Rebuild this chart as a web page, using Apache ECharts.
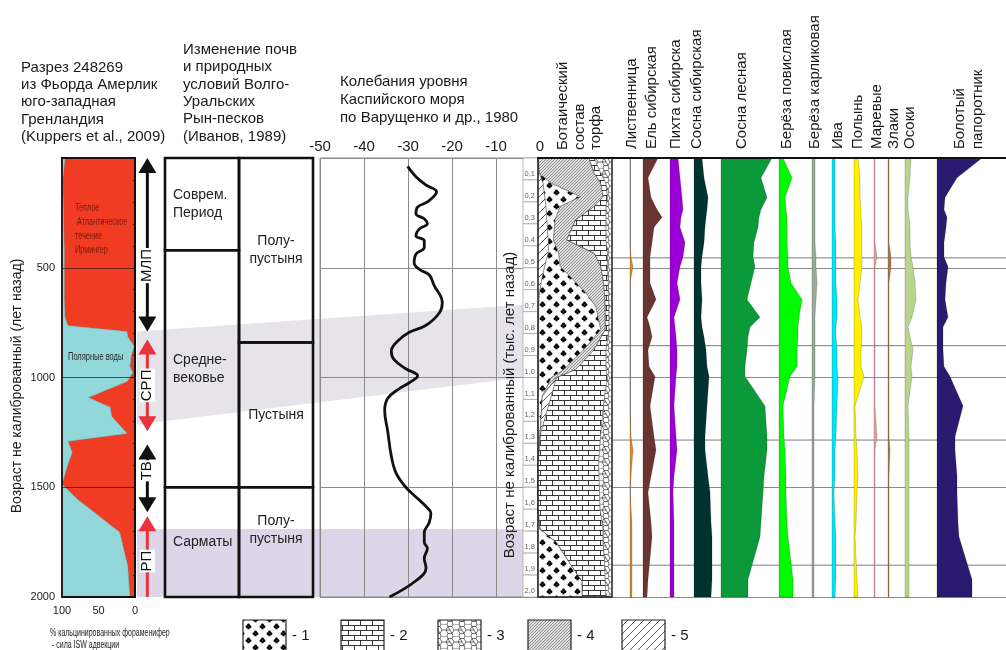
<!DOCTYPE html>
<html>
<head>
<meta charset="utf-8">
<script src="https://cdn.jsdelivr.net/npm/echarts@6/dist/echarts.min.js"></script>
<style>
  html, body { margin: 0; padding: 0; background: #fff; }
  #chart { width: 1006px; height: 650px; }
</style>
</head>
<body>
<div id="chart"></div>
<script>
// ---------------- data ----------------
// Greenland core 248269: share of calcified foraminifera (%), 0..2000 yr BP
const greenlandAges  = [0, 100, 418, 645, 723, 764, 791, 814, 859, 895, 950, 977, 1018, 1091, 1136, 1177, 1255, 1291, 1341, 1405, 1486, 1555, 1705, 1859, 2000];
const greenlandForam = [96, 99, 97, 97, 96, 92, 11, 10, 1, 5, 7, 3, 11, 64, 34, 32, 11, 92, 86, 93, 100, 79, 21, 10, 7];

// climatic periods (arrows)
const periodNames     = ['МЛП', 'СРП', 'ТВ', 'РП'];
const periodStart     = [0, 827, 1305, 1632];
const periodEnd       = [790, 1245, 1614, 2000];
const periodLabelAge  = [490, 1036, 1425, 1836];
const periodEndArrow  = [true, true, true, false];
const periodColors    = ['#111111', '#e8323c', '#111111', '#e8323c'];

// soils and landscapes of the Volga-Ural sands
const soilColumn = [0, 0, 0, 1, 1, 1];
const soilStart  = [0, 420, 1500, 0, 840, 1500];
const soilEnd    = [420, 1500, 2000, 840, 1500, 2000];
const soilLabels = ['Соврем.\nПериод', 'Средне-\nвековье', 'Сарматы', 'Полу-\nпустыня', 'Пустыня', 'Полу-\nпустыня'];

// shaded intervals
const bandMedievalLeft  = [791, 1214];
const bandMedievalRight = [668, 1000];
const bandSarmatian     = [1690, 2000];

// Caspian Sea level (m)
const caspianAges  = [38, 85, 123, 154, 200, 223, 254, 277, 300, 323, 354, 377, 408, 438, 477, 508, 532, 579, 659, 706, 762, 794, 833, 881, 920, 960, 992, 1024, 1055, 1095, 1150, 1246, 1357, 1436, 1500, 1544, 1588, 1618, 1662, 1706, 1750, 1779, 1823, 1868, 1926, 2000];
const caspianLevel = [-30.1, -28.2, -25.9, -23.5, -25.6, -27.8, -28.2, -26.3, -25.6, -27.4, -28.2, -26.3, -26.3, -28.2, -28.6, -27.4, -25.2, -24.1, -22.2, -22.9, -25.9, -29.7, -32.3, -33.8, -33.1, -30.5, -27.8, -29.7, -32.3, -34.6, -35.3, -34.6, -33.8, -32.7, -30.5, -28.2, -25.9, -24.8, -25.2, -26.3, -26.3, -25.6, -26.3, -25.9, -28.2, -34.2];
const caspianTicks = [-50, -40, -30, -20, -10, 0];

// age scale, thousand years
const depthLabels = ['0,1','0,2','0,3','0,4','0,5','0,6','0,7','0,8','0,9','1,0','1,1','1,2','1,3','1,4','1,5','1,6','1,7','1,8','1,9','2,0'];

// botanical composition of peat (%), left to right
const peatAges       = [0, 70, 115, 176, 221, 282, 373, 433, 494, 555, 615, 676, 782, 873, 964, 1001, 1085, 1250, 1390, 1600, 1690, 1750, 1840, 1930, 2000];
const peatHatchLeft  = [0, 2, 7, 9, 11, 12, 14, 14, 9, 5, 2, 1, 1, 1, 1, 1, 0, 0, 0, 0, 0, 0, 0, 0, 0];
const peatClubs      = [0, 0, 11, 49, 19, 11, 7, 14, 21, 43, 63, 77, 84, 61, 34, 17, 6, 3, 0, 0, 3, 25, 42, 60, 60];
const peatFineHatch  = [69, 74, 67, 30, 46, 28, 18, 48, 55, 40, 25, 13, 6, 14, 16, 7, 0, 0, 0, 0, 0, 0, 0, 0, 0];
const peatHatchMid   = [0, 0, 0, 0, 0, 0, 0, 0, 0, 0, 0, 0, 0, 0, 0, 0, 12, 1, 0, 0, 0, 0, 0, 0, 0];
const peatBricks     = [7, 9, 7, 6, 16, 41, 53, 18, 9, 7, 5, 5, 5, 16, 41, 69, 72, 81, 82, 84, 85, 63, 48, 31, 32];
const peatNet        = [24, 15, 8, 6, 8, 8, 8, 6, 6, 5, 5, 4, 4, 8, 8, 6, 10, 15, 18, 16, 12, 12, 10, 9, 8];
const legendNumbers  = ['- 1', '- 2', '- 3', '- 4', '- 5'];

// pollen and spores (%)
const pollenAges   = [0, 90, 180, 235, 270, 315, 385, 450, 495, 570, 645, 725, 770, 815, 875, 950, 995, 1130, 1270, 1330, 1450, 1525, 1660, 1725, 1920, 2000];
const larch        = [0, 0, 0, 0, 0, 0, 0, 1, 3, 0, 0, 0, 0, 0, 0, 0, 0, 0, 1, 3, 1, 0, 2, 2, 2, 2];
const spruce       = [15, 5, 8, 14, 19, 11, 9, 7, 7, 7, 13, 4, 7, 9, 5, 6, 12, 7, 11, 13, 8, 5, 8, 9, 5, 4];
const fir          = [8, 10, 12, 13, 11, 10, 15, 13, 10, 7, 10, 4, 5, 6, 7, 7, 6, 4, 6, 7, 4, 3, 4, 4, 4, 4];
const siberianPine = [8, 10, 14, 13, 12, 11, 10, 8, 7, 7, 8, 7, 8, 10, 12, 13, 15, 13, 11, 11, 14, 16, 17, 18, 18, 17];
const scotsPine    = [51, 40, 46, 40, 38, 37, 33, 32, 34, 30, 26, 39, 29, 27, 26, 24, 24, 44, 46, 46, 43, 42, 40, 39, 27, 27];
const silverBirch  = [4, 13, 6, 7, 8, 8, 8, 9, 9, 12, 23, 20, 19, 19, 18, 18, 11, 4, 5, 6, 7, 7, 8, 9, 14, 14];
const dwarfBirch   = [3, 3, 3, 3, 3, 3, 3, 4, 4, 5, 4, 3, 3, 3, 3, 3, 3, 2, 2, 2, 2, 2, 2, 2, 2, 2];
const willow       = [3, 3, 3, 3, 3, 3, 4, 4, 4, 4, 5, 5, 4, 4, 5, 5, 6, 5, 4, 3, 3, 2, 3, 4, 4, 3];
const wormwood     = [4, 6, 6, 7, 7, 8, 8, 8, 8, 6, 4, 6, 8, 8, 7, 7, 10, 1, 2, 3, 4, 3, 2, 1, 3, 4];
const chenopods    = [1, 1, 1, 1, 1, 1, 1, 3, 1, 1, 1, 1, 1, 1, 1, 1, 1, 1, 3, 1, 1, 1, 1, 1, 1, 1];
const grasses      = [1, 1, 1, 1, 1, 1, 1, 3, 3, 1, 1, 1, 1, 1, 1, 1, 1, 1, 1, 2, 1, 1, 1, 1, 1, 1];
const sedges       = [6, 5, 3, 3, 4, 5, 5, 6, 8, 10, 11, 7, 3, 5, 8, 6, 7, 3, 4, 4, 4, 4, 4, 4, 4, 4];
const marshFern    = [45, 20, 8, 7, 10, 9, 7, 7, 11, 9, 8, 11, 6, 6, 6, 7, 13, 26, 18, 18, 20, 20, 21, 22, 35, 35];
const pollenZoneAges = [455, 855, 1285, 1855];

// ---------------- layout & style ----------------
const FONT = '"Liberation Sans", Arial, "DejaVu Sans", sans-serif';
const TOP = 158, H = 439;

// fill patterns for peat components
function makePattern(kind) {
  const c = document.createElement('canvas');
  const g = c.getContext('2d');
  if (kind === 'clubs') {
    c.width = 14; c.height = 14;
    g.fillStyle = '#fff'; g.fillRect(0, 0, 14, 14);
    g.fillStyle = '#000';
    [[3.5, 3.3], [10.5, 10.3]].forEach(([x, y]) => {
      g.beginPath(); g.arc(x, y - 1.4, 1.45, 0, Math.PI * 2); g.fill();
      g.beginPath(); g.arc(x - 1.5, y + 0.5, 1.45, 0, Math.PI * 2); g.fill();
      g.beginPath(); g.arc(x + 1.5, y + 0.5, 1.45, 0, Math.PI * 2); g.fill();
      g.beginPath(); g.moveTo(x, y); g.lineTo(x - 1.4, y + 3); g.lineTo(x + 1.4, y + 3); g.closePath(); g.fill();
    });
  } else if (kind === 'bricks') {
    c.width = 12; c.height = 10;
    g.fillStyle = '#fff'; g.fillRect(0, 0, 12, 10);
    g.strokeStyle = '#222'; g.lineWidth = 0.9;
    g.beginPath();
    g.moveTo(0, 0.5); g.lineTo(12, 0.5);
    g.moveTo(0, 5.5); g.lineTo(12, 5.5);
    g.moveTo(0.5, 0); g.lineTo(0.5, 5.5);
    g.moveTo(6.5, 5.5); g.lineTo(6.5, 10);
    g.stroke();
  } else if (kind === 'net') {
    c.width = 12; c.height = 12;
    g.fillStyle = '#fff'; g.fillRect(0, 0, 12, 12);
    g.strokeStyle = '#333'; g.lineWidth = 0.7;
    g.beginPath();
    const hex = [[2, 6], [4, 2.5], [8, 2.5], [10, 6], [8, 9.5], [4, 9.5]];
    g.moveTo(hex[0][0], hex[0][1]);
    hex.slice(1).forEach(p => g.lineTo(p[0], p[1]));
    g.closePath();
    g.moveTo(0, 6); g.lineTo(2, 6); g.moveTo(10, 6); g.lineTo(12, 6);
    g.moveTo(4, 2.5); g.lineTo(3, 0); g.moveTo(8, 2.5); g.lineTo(9, 0);
    g.moveTo(4, 9.5); g.lineTo(3, 12); g.moveTo(8, 9.5); g.lineTo(9, 12);
    g.moveTo(4, 2.5); g.lineTo(6, 6); g.lineTo(8, 9.5);
    g.moveTo(2, 6); g.lineTo(6, 6);
    g.moveTo(0, 0); g.lineTo(3, 0); g.moveTo(9, 0); g.lineTo(12, 0);
    g.stroke();
  } else if (kind === 'fine') {
    c.width = 3; c.height = 3;
    g.fillStyle = '#dedede'; g.fillRect(0, 0, 3, 3);
    g.strokeStyle = '#8a8a8a'; g.lineWidth = 0.9;
    g.beginPath();
    g.moveTo(-1, 4); g.lineTo(4, -1);
    g.moveTo(-1, 1); g.lineTo(1, -1);
    g.moveTo(2, 4); g.lineTo(4, 2);
    g.stroke();
  } else {
    c.width = 8; c.height = 8;
    g.fillStyle = '#fff'; g.fillRect(0, 0, 8, 8);
    g.strokeStyle = '#333'; g.lineWidth = 0.8;
    g.beginPath();
    g.moveTo(-1, 9); g.lineTo(9, -1);
    g.moveTo(-1, 1); g.lineTo(1, -1);
    g.moveTo(7, 9); g.lineTo(9, 7);
    g.stroke();
  }
  return { image: c, repeat: 'repeat' };
}
const PAT = {
  clubs: makePattern('clubs'), bricks: makePattern('bricks'), net: makePattern('net'),
  fine: makePattern('fine'), wide: makePattern('wide')
};

const grids = [], xAxes = [], yAxes = [], series = [];
function addGrid(left, width, xOpt, yOpt, gOpt) {
  const idx = grids.length;
  grids.push(Object.assign({ left, width, top: TOP, height: H, containLabel: false }, gOpt || {}));
  xAxes.push(Object.assign({ gridIndex: idx, type: 'value', min: 0, max: 1, show: false }, xOpt || {}));
  yAxes.push(Object.assign({ gridIndex: idx, type: 'value', min: 0, max: 2000, inverse: true, show: false }, yOpt || {}));
  return idx;
}
function custom(idx, render, n, z) {
  const data = [];
  for (let i = 0; i < (n || 1); i++) data.push([0, 0]);
  series.push({ type: 'custom', xAxisIndex: idx, yAxisIndex: idx, data, silent: true, z: z == null ? 2 : z, renderItem: render });
}

// shaded bands across the panels
const gBand = addGrid(137, 386);
custom(gBand, (p, api) => {
  const q = [api.coord([0, bandMedievalLeft[0]]), api.coord([1, bandMedievalRight[0]]),
             api.coord([1, bandMedievalRight[1]]), api.coord([0, bandMedievalLeft[1]])];
  const s0 = api.coord([0, bandSarmatian[0]]), s1 = api.coord([1, bandSarmatian[1]]);
  return { type: 'group', children: [
    { type: 'polygon', shape: { points: q }, style: { fill: '#e6e3eb' } },
    { type: 'rect', shape: { x: s0[0], y: s0[1], width: s1[0] - s0[0], height: s1[1] - s0[1] }, style: { fill: '#ddd5e8' } }
  ] };
}, 1, -1);

// 500-year lines running through the right half
const gFrame = addGrid(320, 686, null, {
  show: true, interval: 500, z: 1,
  axisLine: { show: false }, axisTick: { show: false }, axisLabel: { show: false },
  splitLine: { show: true, lineStyle: { color: '#8c8c8c', width: 1 } }
});

// Greenland core panel
const gGreen = addGrid(62, 73, {
  show: true, inverse: true, min: 0, max: 100, interval: 50, position: 'bottom',
  axisLine: { show: true, lineStyle: { color: '#111', width: 2 } },
  axisTick: { show: true, length: 5, lineStyle: { color: '#111', width: 1.5 } },
  minorTick: { show: true, splitNumber: 5, length: 4, lineStyle: { color: '#111', width: 1.5 } },
  axisLabel: { fontSize: 11, fontFamily: FONT, color: '#222', margin: 8 },
  splitLine: { show: false }
}, {
  show: true, interval: 500, z: 3,
  axisLine: { show: true, lineStyle: { color: '#111', width: 2 } },
  axisTick: { show: true, length: 4, lineStyle: { color: '#111' } },
  minorTick: { show: true, splitNumber: 5, length: 2, lineStyle: { color: '#111' } },
  axisLabel: { fontSize: 11, fontFamily: FONT, color: '#222', margin: 7, formatter: v => v === 0 ? '' : String(v) },
  splitLine: { show: true, lineStyle: { color: 'rgba(50,15,15,0.7)', width: 1 } }
});
custom(gGreen, (p, api) => {
  const n = greenlandAges.length;
  const bnd = greenlandAges.map((a, i) => api.coord([greenlandForam[i], a]));
  const cyan = [api.coord([100, greenlandAges[0]])].concat(bnd, [api.coord([100, greenlandAges[n - 1]])]);
  const red = [api.coord([0, greenlandAges[0]])].concat(bnd, [api.coord([0, greenlandAges[n - 1]])]);
  const a = api.coord([100, 0]), b = api.coord([0, 2000]);
  return { type: 'group', children: [
    { type: 'polygon', shape: { points: red }, style: { fill: '#ef3c22', stroke: '#b62a18', lineWidth: 0.6 } },
    { type: 'polygon', shape: { points: cyan }, style: { fill: '#92d7da', stroke: '#6fb8bc', lineWidth: 0.6 } },
    { type: 'rect', shape: { x: a[0], y: a[1], width: b[0] - a[0], height: b[1] - a[1] }, style: { fill: 'none', stroke: '#111', lineWidth: 1.8 } }
  ] };
});

// period arrows: shaft, label on a white patch, then the heads
const gArrow = addGrid(137, 23);
custom(gArrow, (p, api) => {
  const i = p.dataIndex;
  const cx = api.coord([0.45, 0])[0];
  const y1 = api.coord([0, periodStart[i]])[1];
  const y2 = api.coord([0, periodEnd[i]])[1];
  const yl = api.coord([0, periodLabelAge[i]])[1];
  const col = periodColors[i];
  const hw = 9, hh = 15;
  const ch = [
    { type: 'line', z2: 1, shape: { x1: cx, y1: y1 + hh - 2, x2: cx, y2: periodEndArrow[i] ? y2 - hh + 2 : y2 }, style: { stroke: col, lineWidth: 3 } },
    { type: 'text', z2: 2, x: cx, y: yl, rotation: Math.PI / 2,
      style: { text: periodNames[i], x: 0, y: 0, align: 'center', verticalAlign: 'middle', fontSize: 15, fontFamily: FONT, fill: '#111', backgroundColor: '#fff', padding: [0, 1] } },
    { type: 'polygon', z2: 3, shape: { points: [[cx, y1], [cx - hw, y1 + hh], [cx + hw, y1 + hh]] }, style: { fill: col } }
  ];
  if (periodEndArrow[i]) ch.push({ type: 'polygon', z2: 3, shape: { points: [[cx, y2], [cx - hw, y2 - hh], [cx + hw, y2 - hh]] }, style: { fill: col } });
  return { type: 'group', children: ch };
}, periodNames.length, 4);

// soil panel
const gSoil = addGrid(165, 148, { min: 0, max: 2 });
custom(gSoil, (p, api) => {
  const i = p.dataIndex;
  const c = soilColumn[i];
  const a = api.coord([c, soilStart[i]]), b = api.coord([c + 1, soilEnd[i]]);
  const cy = (a[1] + b[1]) / 2 + (c === 1 && soilStart[i] === 1500 ? -12 : 0);
  const tx = c === 0 ? a[0] + 8 : (a[0] + b[0]) / 2;
  return { type: 'group', children: [
    { type: 'rect', shape: { x: a[0], y: a[1], width: b[0] - a[0], height: b[1] - a[1] }, style: { fill: 'none', stroke: '#111', lineWidth: 2.6 } },
    { type: 'text', style: { text: soilLabels[i], x: tx, y: cy, align: c === 0 ? 'left' : 'center', verticalAlign: 'middle', fontSize: 14, lineHeight: 18, fontFamily: FONT, fill: '#222' } }
  ] };
}, soilLabels.length);

// Caspian Sea level panel
const gCasp = addGrid(320, 220, {
  show: true, min: -50, max: 0, interval: 10, position: 'top', z: 1,
  axisLine: { show: false }, axisTick: { show: false },
  axisLabel: { fontSize: 15, fontFamily: FONT, color: '#1a1a1a', margin: 4, formatter: v => caspianTicks.indexOf(v) >= 0 ? String(v) : '' },
  splitLine: { show: true, lineStyle: { color: '#8c8c8c', width: 1 } }
}, null, { show: true, borderColor: '#8c8c8c', borderWidth: 1, z: 1 });
series.push({
  type: 'line', xAxisIndex: gCasp, yAxisIndex: gCasp, smooth: 0.4, showSymbol: false, silent: true, z: 3,
  lineStyle: { color: '#111', width: 2.8 },
  data: caspianLevel.map((v, i) => [v, caspianAges[i]])
});

// age scale boxes
const gDepth = addGrid(523, 15);
custom(gDepth, (p, api) => {
  const ch = [];
  depthLabels.forEach((t, i) => {
    const a = api.coord([0, i * 100]), b = api.coord([1, (i + 1) * 100]);
    ch.push({ type: 'rect', shape: { x: a[0], y: a[1], width: b[0] - a[0], height: b[1] - a[1] }, style: { fill: '#fff', stroke: '#a8a8a8', lineWidth: 0.8 } });
    ch.push({ type: 'text', style: { text: t, x: a[0] + 1.5, y: b[1] - 2, align: 'left', verticalAlign: 'bottom', fontSize: 7.5, fontFamily: FONT, fill: '#666' } });
  });
  return { type: 'group', children: ch };
}, 1, 4);

// peat composition column
const gPeat = addGrid(538, 74, { min: 0, max: 100 });
const peatLayers = [peatHatchLeft, peatClubs, peatFineHatch, peatHatchMid, peatBricks, peatNet];
const peatFills  = [PAT.wide, PAT.clubs, PAT.fine, PAT.wide, PAT.bricks, PAT.net];
custom(gPeat, (p, api) => {
  const ch = [];
  const cum = peatAges.map(() => 0);
  peatLayers.forEach((layer, k) => {
    const left = cum.slice();
    layer.forEach((v, j) => { cum[j] += v; });
    const pts = [];
    peatAges.forEach((a, j) => pts.push(api.coord([cum[j], a])));
    for (let j = peatAges.length - 1; j >= 0; j--) pts.push(api.coord([left[j], peatAges[j]]));
    ch.push({ type: 'polygon', shape: { points: pts }, style: { fill: peatFills[k], stroke: '#555', lineWidth: 0.5 } });
  });
  const a = api.coord([0, 0]), b = api.coord([100, 2000]);
  ch.push({ type: 'rect', shape: { x: a[0], y: a[1], width: b[0] - a[0], height: b[1] - a[1] }, style: { fill: 'none', stroke: '#222', lineWidth: 1.4 } });
  return { type: 'group', children: ch };
}, 1, 4);

// top rule over peat and pollen panels, bottom rule of pollen panel
const gTopRule = addGrid(538, 468, {
  show: true, position: 'top', z: 5,
  axisLine: { show: true, lineStyle: { color: '#111', width: 2.2 } },
  axisTick: { show: false }, axisLabel: { show: false }, splitLine: { show: false }
});
const gZones = addGrid(612, 394, {
  show: true, position: 'bottom',
  axisLine: { show: true, lineStyle: { color: '#b0b0b0', width: 1 } },
  axisTick: { show: false }, axisLabel: { show: false }, splitLine: { show: false }
});
custom(gZones, (p, api) => {
  return { type: 'group', children: pollenZoneAges.map(a => {
    const l = api.coord([0, a]), r = api.coord([1, a]);
    return { type: 'line', shape: { x1: l[0], y1: l[1], x2: r[0], y2: r[1] }, style: { stroke: '#7d7d7d', lineWidth: 1 } };
  }) };
}, 1, 1);

// pollen diagram
const taxa = [
  { name: ['Лиственница'],            values: larch,        color: '#dc8a2a', base: 630, hx: 632 },
  { name: ['Ель сибирская'],          values: spruce,       color: '#6a3430', base: 643, hx: 652 },
  { name: ['Пихта сибирска'],         values: fir,          color: '#9a00d6', base: 670, hx: 676 },
  { name: ['Сосна сибирская'],        values: siberianPine, color: '#00332f', base: 694, hx: 697 },
  { name: ['Сосна лесная'],           values: scotsPine,    color: '#0b9a3a', base: 721, hx: 742 },
  { name: ['Берёза повислая'],        values: silverBirch,  color: '#00fa00', base: 779, hx: 787 },
  { name: ['Берёза карликовая'],      values: dwarfBirch,   color: '#9aaa9c', base: 812, hx: 815 },
  { name: ['Ива'],                    values: willow,       color: '#00e6f6', base: 832, hx: 838 },
  { name: ['Полынь'],                 values: wormwood,     color: '#fff000', base: 854, hx: 858 },
  { name: ['Маревые'],                values: chenopods,    color: '#e2a0a6', base: 874, hx: 877 },
  { name: ['Злаки'],                  values: grasses,      color: '#a97b4c', base: 888, hx: 894 },
  { name: ['Осоки'],                  values: sedges,       color: '#b6d68c', base: 905, hx: 910 },
  { name: ['Болотый', 'папоротник'],  values: marshFern,    color: '#2a1a70', base: 937, hx: 960 }
];
taxa.forEach(t => {
  const gi = addGrid(t.base, 60, { min: 0, max: 60 }, {
    show: true, z: 1,
    axisLine: { show: true, lineStyle: { color: '#9c9c9c', width: 1 } },
    axisTick: { show: false }, axisLabel: { show: false }, splitLine: { show: false }
  });
  custom(gi, (p, api) => {
    const n = pollenAges.length;
    const pts = [api.coord([0, pollenAges[0]])];
    t.values.forEach((v, i) => pts.push(api.coord([v, pollenAges[i]])));
    pts.push(api.coord([0, pollenAges[n - 1]]));
    return { type: 'polygon', shape: { points: pts }, style: { fill: t.color, stroke: 'rgba(0,0,0,0.3)', lineWidth: 0.6 } };
  }, 1, 3);
});

// ---------------- text ----------------
function txt(text, x, y, o) {
  o = o || {};
  return { type: 'text', x, y, rotation: o.rot || 0, scaleX: o.sx || 1, z: 50, silent: true,
    style: { text, x: 0, y: 0, fill: o.color || '#1a1a1a', fontSize: o.size || 15, fontFamily: FONT,
      align: o.align || 'left', verticalAlign: o.valign || 'middle', lineHeight: o.lh || undefined } };
}
const R = Math.PI / 2;
const graphics = [
  txt('Разрез 248269\nиз Фьорда Амерлик\nюго-западная\nГренландия\n(Kuppers et al., 2009)', 21, 59, { valign: 'top', lh: 17.3 }),
  txt('Изменение почв\nи природных\nусловий Волго-\nУральских\nРын-песков\n(Иванов, 1989)', 183, 41, { valign: 'top', lh: 17.4 }),
  txt('Колебания уровня\nКаспийского моря\nпо Варущенко и др., 1980', 340, 73, { valign: 'top', lh: 18 }),
  txt('Ботаический', 563, 150, { rot: R }),
  txt('состав', 580, 150, { rot: R }),
  txt('торфа', 596, 150, { rot: R }),
  txt('Возраст не калиброванный (лет назад)', 17, 386, { rot: R, align: 'center', size: 14 }),
  txt('Возраст не калиброванный (тыс. лет назад)', 510, 405, { rot: R, align: 'center', size: 15 }),
  txt('Теплое\n Атлантическое\nтечение\nИрмингер', 75, 201, { size: 11, sx: 0.66, color: '#7d170c', valign: 'top', lh: 14 }),
  txt('Полярные воды', 68, 357, { size: 11, sx: 0.68, color: '#2a2a2a' }),
  txt('% кальцинированных фораменифер', 50, 633, { size: 10, sx: 0.7, color: '#222' }),
  txt('- сила ISW адвекции', 52, 645, { size: 10, sx: 0.7, color: '#222' })
];

taxa.forEach(t => {
  graphics.push(txt(t.name[0], t.hx, 149, { rot: R }));
  if (t.name.length > 1) graphics.push(txt(t.name[1], t.hx + 18, 149, { rot: R }));
});

// legend of peat components
const legendFills = [PAT.clubs, PAT.bricks, PAT.net, PAT.fine, PAT.wide];
const legendX = [243, 341, 438, 528, 622];
legendFills.forEach((f, i) => {
  graphics.push({ type: 'rect', z: 50, silent: true, shape: { x: legendX[i], y: 620, width: 43, height: 34 },
    style: { fill: f, stroke: '#222', lineWidth: 1.2 } });
  graphics.push(txt(legendNumbers[i], legendX[i] + 49, 636, { size: 15 }));
});

const chart = echarts.init(document.getElementById('chart'), null, { renderer: 'canvas' });
chart.setOption({
  animation: false,
  backgroundColor: '#fff',
  grid: grids,
  xAxis: xAxes,
  yAxis: yAxes,
  series,
  graphic: { elements: graphics }
});
</script>
</body>
</html>
